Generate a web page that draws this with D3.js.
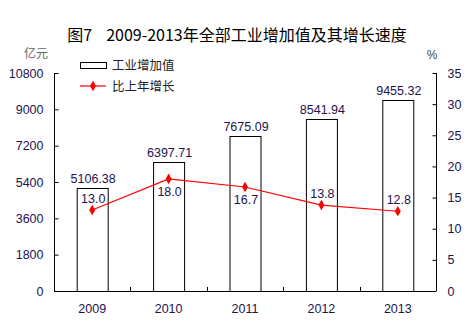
<!DOCTYPE html>
<html><head><meta charset="utf-8">
<script src="https://cdn.jsdelivr.net/npm/d3@7"></script>
<style>
body{margin:0;background:#fff;}
svg{display:block;font-family:"Liberation Sans",Arial,sans-serif;}
</style></head>
<body><svg id="c" width="468" height="328"></svg>
<script>
const years = ["2009","2010","2011","2012","2013"];
const valueAdded = [5106.38, 6397.71, 7675.09, 8541.94, 9455.32];
const growth = [13.0, 18.0, 16.7, 13.8, 12.8];
const growthLabelPos = ["above","below","below","above","above"];
const leftTicks = [0,1800,3600,5400,7200,9000,10800];
const rightTicks = [0,5,10,15,20,25,30,35];

const svg = d3.select("#c");
const m = {l:54, r:436, t:73, b:291};
const numColor = "#24124f";
const cjk = '"Noto Sans CJK SC","Noto Sans",sans-serif';

const x = d3.scaleBand().domain(years).range([m.l, m.r]).paddingInner(0).paddingOuter(0);
const yL = d3.scaleLinear().domain([0,10800]).range([m.b, m.t]);
const yR = d3.scaleLinear().domain([0,35]).range([m.b, m.t]);

// title
const title = svg.append("text").attr("x",237).attr("y",41).attr("text-anchor","middle")
  .style("font-family",cjk).style("font-size","16px").attr("fill","#000");
title.append("tspan").text("图7");
title.append("tspan").attr("dx",14).text("2009-2013年全部工业增加值及其增长速度");
svg.append("text").attr("x",36).attr("y",58).attr("text-anchor","middle")
  .style("font-family",cjk).style("font-size","12px").attr("fill","#666").text("亿元");
svg.append("text").attr("x",432).attr("y",59).attr("text-anchor","middle")
  .style("font-size","12px").attr("fill","#444").text("%");

// bars
const bw = 31;
svg.append("g").selectAll("rect").data(years).join("rect")
  .attr("x", d => x(d) + x.bandwidth()/2 - bw/2 + 0.5)
  .attr("y", (d,i) => Math.round(yL(valueAdded[i])) + 0.5)
  .attr("width", bw)
  .attr("height", (d,i) => m.b - Math.round(yL(valueAdded[i])))
  .attr("fill","#fff").attr("stroke","#000").attr("stroke-width",1);

svg.append("g").selectAll("text").data(years).join("text")
  .attr("x", d => x(d) + x.bandwidth()/2 + 1)
  .attr("y", (d,i) => yL(valueAdded[i]) - 5)
  .attr("text-anchor","middle").style("font-size","12.5px").attr("fill",numColor)
  .text((d,i) => valueAdded[i].toFixed(2));

// axes
const axL = d3.axisLeft(yL).tickValues(leftTicks).tickSize(-4).tickPadding(11).tickFormat(d3.format("d"));
const gL = svg.append("g").attr("transform",`translate(${m.l+0.5},0)`).call(axL);
const axR = d3.axisRight(yR).tickValues(rightTicks).tickSize(-4).tickPadding(11).tickFormat(d3.format("d"));
const gR = svg.append("g").attr("transform",`translate(${m.r+0.5},0)`).call(axR);
const axB = d3.axisBottom(x).tickSize(0).tickPadding(13);
const gB = svg.append("g").attr("transform",`translate(0,${m.b+0.5})`).call(axB);
[gL,gR,gB].forEach(g=>{
  g.select(".domain").attr("stroke","#000");
  g.selectAll(".tick line").attr("stroke","#000");
  g.selectAll("text").style("font-size","12.5px").style("font-family",'"Liberation Sans",Arial,sans-serif').attr("fill",numColor);
});
gL.select(".domain").attr("d",`M0,${m.t}V${m.b}`);
gR.select(".domain").attr("d",`M0,${m.t}V${m.b}`);
gB.select(".domain").attr("d",`M${m.l},0H${m.r}`);
// inner category separator ticks on x axis
svg.append("g").selectAll("line").data(years.slice(1)).join("line")
  .attr("x1", d => Math.round(x(d))+0.5).attr("x2", d => Math.round(x(d))+0.5)
  .attr("y1", m.b).attr("y2", m.b-4).attr("stroke","#000");

// growth line
const line = d3.line().x((d,i) => x(years[i]) + x.bandwidth()/2).y(d => yR(d));
svg.append("path").datum(growth).attr("d",line).attr("fill","none").attr("stroke","#f00").attr("stroke-width",1.2);
const diamond = d3.symbol().type(d3.symbolDiamond).size(32);
svg.append("g").selectAll("path").data(growth).join("path")
  .attr("transform",(d,i)=>`translate(${x(years[i]) + x.bandwidth()/2},${yR(d)})`)
  .attr("d",diamond).attr("fill","#f00");
svg.append("g").selectAll("text").data(growth).join("text")
  .attr("x",(d,i)=> x(years[i]) + x.bandwidth()/2 + 1)
  .attr("y",(d,i)=> growthLabelPos[i]==="above" ? yR(d) - 7 : yR(d) + 17)
  .attr("text-anchor","middle").style("font-size","12.5px").attr("fill",numColor)
  .text(d => d.toFixed(1));

// legend
const lg = svg.append("g");
lg.append("rect").attr("x",80.5).attr("y",62.5).attr("width",26).attr("height",6).attr("fill","#fff").attr("stroke","#000");
lg.append("text").attr("x",112).attr("y",70).style("font-family",cjk).style("font-size","12.5px").attr("fill","#222").text("工业增加值");
lg.append("line").attr("x1",80).attr("x2",106).attr("y1",86).attr("y2",86).attr("stroke","#f00").attr("stroke-width",1.2);
lg.append("path").attr("transform","translate(93,86)").attr("d",diamond).attr("fill","#f00");
lg.append("text").attr("x",112).attr("y",90.5).style("font-family",cjk).style("font-size","12.5px").attr("fill","#222").text("比上年增长");
</script></body></html>
